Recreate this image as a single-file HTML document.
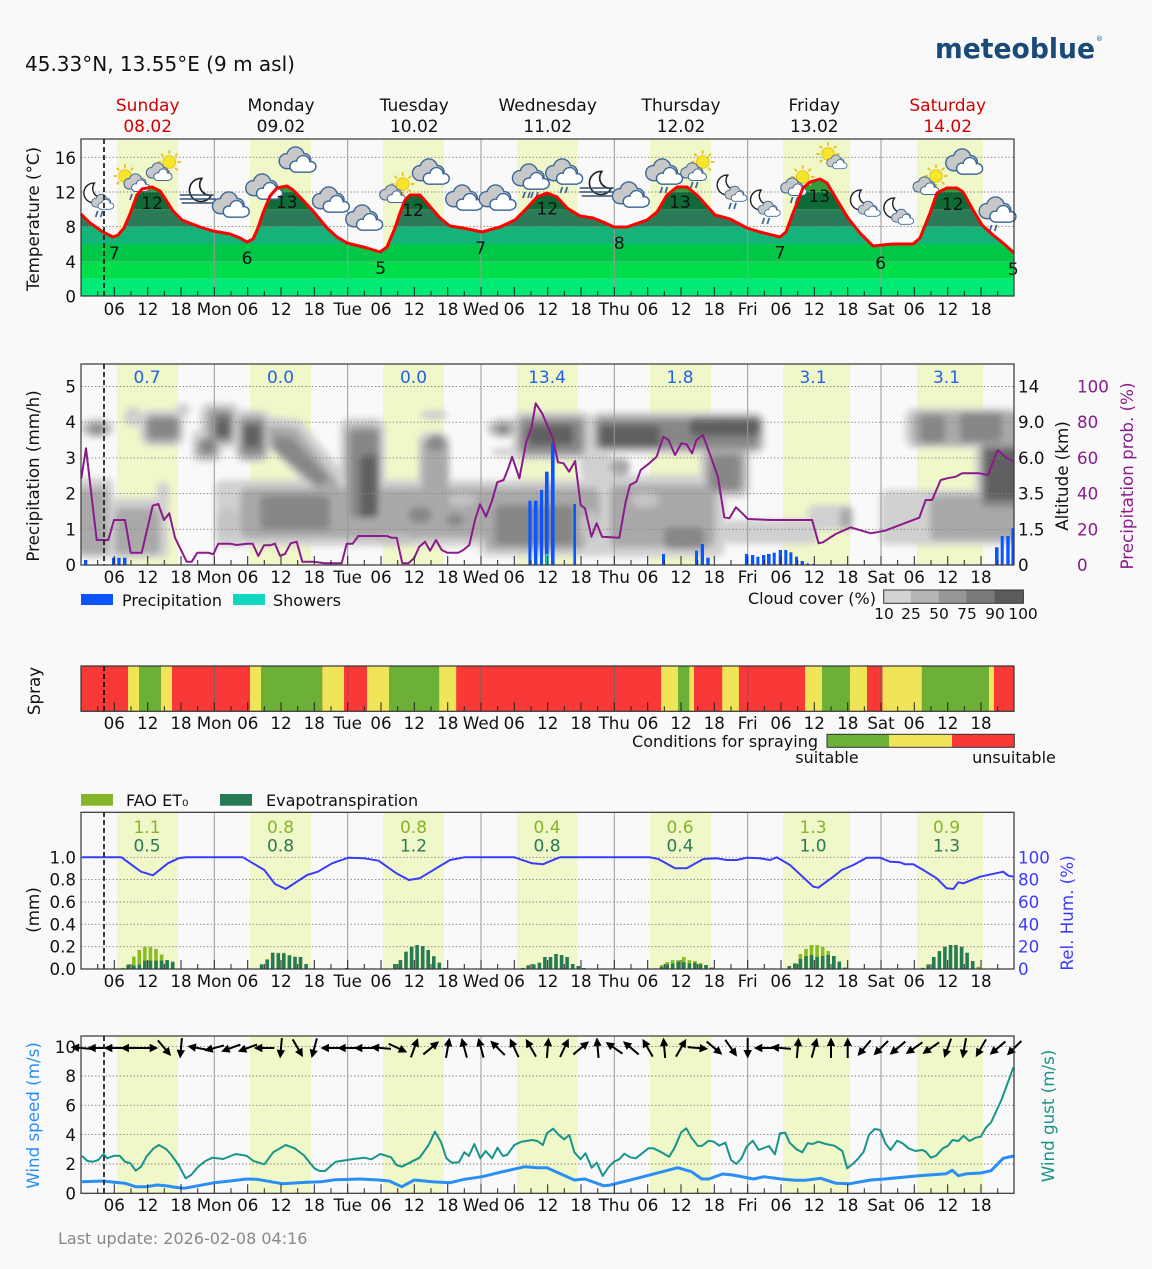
<!DOCTYPE html>
<html><head><meta charset="utf-8">
<style>
html,body{margin:0;padding:0;background:#f9f9f9;}
svg{display:block;font-family:"DejaVu Sans","Liberation Sans",sans-serif;}
</style></head>
<body>
<svg width="1152" height="1269" viewBox="0 0 1152 1269" xmlns="http://www.w3.org/2000/svg" xmlns:xlink="http://www.w3.org/1999/xlink">
<defs>
<filter id="bl" x="-20%" y="-20%" width="140%" height="140%"><feGaussianBlur stdDeviation="3.3"/></filter>
<clipPath id="tclip"><path d="M81,296 L81,214 90,223 103,232 113,237 118,235 124,228 130,214 137,195 142,189 152,187 160,191 166,200 173,211 182,220 192,224 200,227 213,231 230,234 240,238 247,242 253,239 258,228 263,213 270,196 277,188 287,186 293,190 300,197 313,211 327,228 337,237 347,243 367,248 380,252 387,247 395,228 400,213 405,200 410,195 420,195 427,203 440,218 450,226 463,228 482,232 500,227 515,220 527,208 537,197 547,193 557,197 567,208 580,216 593,218 603,222 614,227 627,227 647,220 657,212 667,195 677,187 687,187 697,195 715,215 730,219 747,228 760,232 780,237 786,232 793,213 803,188 810,182 820,179 827,183 837,200 848,218 860,233 873,246 893,244 913,244 920,238 930,213 937,193 947,188 957,188 963,192 973,210 982,225 993,235 1003,243 1014,253 L1014,296 Z"/></clipPath>
<clipPath id="pclip"><rect x="81" y="364" width="933" height="201"/></clipPath>
<g id="cl0">
<g fill="#3d6699"><circle cx="-10" cy="1" r="7.5"/><circle cx="-2" cy="-4" r="8.5"/><circle cx="6" cy="0" r="6.5"/><rect x="-10" y="0" width="16" height="8.5"/></g>
<g fill="#c8c8c8"><circle cx="-10" cy="1" r="6.2"/><circle cx="-2" cy="-4" r="7.2"/><circle cx="6" cy="0" r="5.2"/><rect x="-10" y="0" width="16" height="7.2"/></g>
<g fill="#3d6699"><circle cx="-2" cy="6" r="5.7"/><circle cx="5" cy="2" r="6.7"/><circle cx="12" cy="6" r="5.2"/><rect x="-2" y="6" width="14" height="5.7"/></g>
<g fill="#ffffff"><circle cx="-2" cy="6" r="4.4"/><circle cx="5" cy="2" r="5.4"/><circle cx="12" cy="6" r="3.9"/><rect x="-2" y="6" width="14" height="4.4"/></g>
</g>
<use id="cl" xlink:href="#cl0" transform="scale(1.1)"/>
<g id="sun"><path d="M0,-13V-9M9.2,-9.2L6.4,-6.4M13,0H9M9.2,9.2L6.4,6.4M0,13V9M-9.2,9.2L-6.4,6.4M-13,0H-9M-9.2,-9.2L-6.4,-6.4" stroke="#e6c01c" stroke-width="2"/><circle r="7" fill="#f7e52a" stroke="#e3c020" stroke-width="1"/></g>
<path id="moon" d="M2,-11 A11,11 0 1,0 11,5 A10,10 0 0,1 2,-11 Z" fill="#fff" stroke="#222" stroke-width="1.6"/>
<path id="rain" d="M-3,0 L-5,6 M2,0 L0,6" stroke="#3d6699" stroke-width="1.8" fill="none"/>
<path id="fog" d="M-18,0H16M-18,4H18M-16,8H18" stroke="#34506e" stroke-width="1.6" fill="none"/>
<g id="arr"><line x1="-10" y1="0" x2="4" y2="0" stroke="#000" stroke-width="2"/><polygon points="10.5,0 2,-4.2 2,4.2" fill="#000"/></g>
<path id="tk" d="M114.3,0v-9M147.7,0v-9M181,0v-9M214.3,0v-9M247.7,0v-9M281,0v-9M314.3,0v-9M347.7,0v-9M381,0v-9M414.3,0v-9M447.7,0v-9M481,0v-9M514.3,0v-9M547.7,0v-9M581,0v-9M614.3,0v-9M647.7,0v-9M681,0v-9M714.3,0v-9M747.7,0v-9M781,0v-9M814.3,0v-9M847.7,0v-9M881,0v-9M914.3,0v-9M947.7,0v-9M981,0v-9M97.7,0v-5M131,0v-5M164.3,0v-5M197.7,0v-5M231,0v-5M264.3,0v-5M297.7,0v-5M331,0v-5M364.3,0v-5M397.7,0v-5M431,0v-5M464.3,0v-5M497.7,0v-5M531,0v-5M564.3,0v-5M597.7,0v-5M631,0v-5M664.3,0v-5M697.7,0v-5M731,0v-5M764.3,0v-5M797.7,0v-5M831,0v-5M864.3,0v-5M897.7,0v-5M931,0v-5M964.3,0v-5M997.7,0v-5" stroke="#222" stroke-width="1" fill="none"/>
</defs>

<rect x="0" y="0" width="1152" height="1269" fill="#f9f9f9"/>

<!-- Header -->
<text x="25" y="71" font-size="20" fill="#111">45.33°N, 13.55°E (9 m asl)</text>
<text x="935" y="58" font-size="28" font-weight="bold" fill="#1a4a78" textLength="160" lengthAdjust="spacingAndGlyphs">meteoblue</text>
<text x="1096" y="41" font-size="7" fill="#1a4a78">®</text>

<g font-size="17" text-anchor="middle">
<text x="147.7" y="111" fill="#d40000">Sunday</text><text x="147.7" y="132" fill="#d40000">08.02</text>
<text x="281" y="111" fill="#111">Monday</text><text x="281" y="132" fill="#111">09.02</text>
<text x="414.3" y="111" fill="#111">Tuesday</text><text x="414.3" y="132" fill="#111">10.02</text>
<text x="547.7" y="111" fill="#111">Wednesday</text><text x="547.7" y="132" fill="#111">11.02</text>
<text x="681" y="111" fill="#111">Thursday</text><text x="681" y="132" fill="#111">12.02</text>
<text x="814.3" y="111" fill="#111">Friday</text><text x="814.3" y="132" fill="#111">13.02</text>
<text x="947.7" y="111" fill="#d40000">Saturday</text><text x="947.7" y="132" fill="#d40000">14.02</text>
</g>

<!-- ================= TEMPERATURE ================= -->
<g fill="#f0f7c9">
<rect x="117" y="139" width="61" height="157"/><rect x="250" y="139" width="61" height="157"/><rect x="383" y="139" width="61" height="157"/><rect x="517" y="139" width="60.5" height="157"/><rect x="650" y="139" width="61" height="157"/><rect x="783" y="139" width="67" height="157"/><rect x="917" y="139" width="66" height="157"/>
</g>
<g clip-path="url(#tclip)">
<rect x="81" y="278.7" width="933" height="17.3" fill="#00ea78"/>
<rect x="81" y="261.3" width="933" height="17.4" fill="#00de4c"/>
<rect x="81" y="244" width="933" height="17.3" fill="#00c846"/>
<rect x="81" y="226.6" width="933" height="17.4" fill="#13b37a"/>
<rect x="81" y="209.3" width="933" height="17.3" fill="#2b7a58"/>
<rect x="81" y="192" width="933" height="17.3" fill="#0e6b37"/>
<rect x="81" y="150" width="933" height="42" fill="#2e9c3d"/>
</g>
<g stroke="#888" stroke-width="0.9" stroke-dasharray="1.5,2" fill="none">
<path d="M81,261.3H1014M81,226.6H1014M81,192H1014M81,157.3H1014"/>
</g>
<path d="M214.3,139V296M347.7,139V296M481,139V296M614.3,139V296M747.7,139V296M881,139V296" stroke="#999" stroke-width="1"/>

<!-- weather icons -->
<g>
<g transform="translate(97.7,198)"><use xlink:href="#moon" transform="translate(-5,-5) scale(.9)"/><use xlink:href="#cl" transform="translate(5,4) scale(.6)"/><use xlink:href="#rain" transform="translate(3,13)"/></g>
<g transform="translate(131,180)"><use xlink:href="#sun" transform="translate(-6,-4) scale(.9)"/><use xlink:href="#cl" transform="translate(6,3) scale(.7)"/><use xlink:href="#rain" transform="translate(4,14)"/></g>
<g transform="translate(164.3,168)"><use xlink:href="#sun" transform="translate(5,-6) scale(.9)"/><use xlink:href="#cl" transform="translate(-5,4) scale(.7)"/></g>
<g transform="translate(197.7,193)"><use xlink:href="#moon" transform="translate(2,-3) scale(1.05)"/><use xlink:href="#fog" transform="translate(0,2)"/></g>
<use xlink:href="#cl" transform="translate(231,205)"/>
<use xlink:href="#cl" transform="translate(264.3,187)"/>
<use xlink:href="#cl" transform="translate(297.7,160)"/>
<use xlink:href="#cl" transform="translate(331,200)"/>
<use xlink:href="#cl" transform="translate(364.3,218)"/>
<g transform="translate(397.7,190)"><use xlink:href="#sun" transform="translate(5,-6) scale(.9)"/><use xlink:href="#cl" transform="translate(-5,4) scale(.7)"/></g>
<use xlink:href="#cl" transform="translate(431,172)"/>
<use xlink:href="#cl" transform="translate(464.3,198)"/>
<use xlink:href="#cl" transform="translate(497.7,198)"/>
<g transform="translate(531,177)"><use xlink:href="#cl"/><use xlink:href="#rain" transform="translate(-3,15)"/><use xlink:href="#rain" transform="translate(5,15)"/></g>
<g transform="translate(564.3,172)"><use xlink:href="#cl"/><use xlink:href="#rain" transform="translate(1,15)"/></g>
<g transform="translate(597.7,186)"><use xlink:href="#moon" transform="translate(2,-3) scale(1.05)"/><use xlink:href="#fog" transform="translate(0,2)"/></g>
<use xlink:href="#cl" transform="translate(631,195)"/>
<g transform="translate(664.3,172)"><use xlink:href="#cl"/><use xlink:href="#rain" transform="translate(1,15)"/></g>
<g transform="translate(697.7,168)"><use xlink:href="#sun" transform="translate(5,-6) scale(.9)"/><use xlink:href="#cl" transform="translate(-4,4) scale(.7)"/><use xlink:href="#rain" transform="translate(-2,14)"/></g>
<g transform="translate(731,190)"><use xlink:href="#moon" transform="translate(-5,-5) scale(.9)"/><use xlink:href="#cl" transform="translate(5,4) scale(.6)"/><use xlink:href="#rain" transform="translate(3,13)"/></g>
<g transform="translate(764.3,205)"><use xlink:href="#moon" transform="translate(-5,-5) scale(.9)"/><use xlink:href="#cl" transform="translate(5,4) scale(.6)"/><use xlink:href="#rain" transform="translate(3,13)"/></g>
<g transform="translate(797.7,183)"><use xlink:href="#sun" transform="translate(5,-6) scale(.9)"/><use xlink:href="#cl" transform="translate(-4,4) scale(.7)"/><use xlink:href="#rain" transform="translate(-2,14)"/></g>
<g transform="translate(831,157)"><use xlink:href="#sun" transform="translate(-3,-3) scale(.9)"/><use xlink:href="#cl" transform="translate(6,5) scale(.55)"/></g>
<g transform="translate(864.3,205)"><use xlink:href="#moon" transform="translate(-5,-5) scale(.9)"/><use xlink:href="#cl" transform="translate(5,4) scale(.6)"/></g>
<g transform="translate(897.7,213)"><use xlink:href="#moon" transform="translate(-5,-5) scale(.9)"/><use xlink:href="#cl" transform="translate(5,4) scale(.6)"/></g>
<g transform="translate(931,182)"><use xlink:href="#sun" transform="translate(5,-6) scale(.9)"/><use xlink:href="#cl" transform="translate(-5,4) scale(.7)"/></g>
<use xlink:href="#cl" transform="translate(964.3,162)"/>
<g transform="translate(997.7,210)"><use xlink:href="#cl"/><use xlink:href="#rain" transform="translate(-3,15)"/></g>
</g>

<polyline fill="none" stroke="#ff0000" stroke-width="3" stroke-linejoin="round" points="81,214 90,223 103,232 113,237 118,235 124,228 130,214 137,195 142,189 152,187 160,191 166,200 173,211 182,220 192,224 200,227 213,231 230,234 240,238 247,242 253,239 258,228 263,213 270,196 277,188 287,186 293,190 300,197 313,211 327,228 337,237 347,243 367,248 380,252 387,247 395,228 400,213 405,200 410,195 420,195 427,203 440,218 450,226 463,228 482,232 500,227 515,220 527,208 537,197 547,193 557,197 567,208 580,216 593,218 603,222 614,227 627,227 647,220 657,212 667,195 677,187 687,187 697,195 715,215 730,219 747,228 760,232 780,237 786,232 793,213 803,188 810,182 820,179 827,183 837,200 848,218 860,233 873,246 893,244 913,244 920,238 930,213 937,193 947,188 957,188 963,192 973,210 982,225 993,235 1003,243 1014,253"/>

<g font-size="17" fill="#111" text-anchor="middle">
<text x="114.3" y="259">7</text><text x="152" y="209">12</text><text x="247" y="264">6</text><text x="286.7" y="208">13</text><text x="380.7" y="274">5</text>
<text x="413" y="216">12</text><text x="480.7" y="254">7</text><text x="547.3" y="214.5">12</text><text x="619.3" y="249">8</text><text x="680" y="208">13</text>
<text x="780" y="258.5">7</text><text x="819.3" y="202">13</text><text x="880.7" y="269">6</text><text x="952.7" y="210">12</text><text x="1013.3" y="275">5</text>
</g>
<line x1="104" y1="139" x2="104" y2="296" stroke="#222" stroke-width="1.8" stroke-dasharray="5,3"/>
<use xlink:href="#tk" y="296"/>
<rect x="81" y="139" width="933" height="157" fill="none" stroke="#333" stroke-width="1.2"/>
<g font-size="16.7" fill="#111" text-anchor="end">
<text x="76" y="302.5">0</text><text x="76" y="267.8">4</text><text x="76" y="233">8</text><text x="76" y="198.5">12</text><text x="76" y="163.8">16</text>
</g>
<text transform="translate(39,219) rotate(-90)" font-size="16.7" fill="#111" text-anchor="middle">Temperature (°C)</text>
<text font-size="16.7" fill="#111" text-anchor="middle" y="315"><tspan x="114.3">06</tspan><tspan x="147.7">12</tspan><tspan x="181">18</tspan><tspan x="214.3">Mon</tspan><tspan x="247.7">06</tspan><tspan x="281">12</tspan><tspan x="314.3">18</tspan><tspan x="347.7">Tue</tspan><tspan x="381">06</tspan><tspan x="414.3">12</tspan><tspan x="447.7">18</tspan><tspan x="481">Wed</tspan><tspan x="514.3">06</tspan><tspan x="547.7">12</tspan><tspan x="581">18</tspan><tspan x="614.3">Thu</tspan><tspan x="647.7">06</tspan><tspan x="681">12</tspan><tspan x="714.3">18</tspan><tspan x="747.7">Fri</tspan><tspan x="781">06</tspan><tspan x="814.3">12</tspan><tspan x="847.7">18</tspan><tspan x="881">Sat</tspan><tspan x="914.3">06</tspan><tspan x="947.7">12</tspan><tspan x="981">18</tspan></text>

<!-- ================= PRECIPITATION ================= -->
<g fill="#f0f7c9">
<rect x="117" y="364" width="61" height="201"/><rect x="250" y="364" width="61" height="201"/><rect x="383" y="364" width="61" height="201"/><rect x="517" y="364" width="60.5" height="201"/><rect x="650" y="364" width="61" height="201"/><rect x="783" y="364" width="67" height="201"/><rect x="917" y="364" width="66" height="201"/>
</g>
<g clip-path="url(#pclip)"><g filter="url(#bl)">
<g fill="#d0d0d0">
<rect x="76" y="478" width="37" height="80" rx="6"/><rect x="110" y="498" width="58" height="60" rx="6"/><rect x="157" y="482" width="12" height="24" rx="5"/>
<ellipse cx="97" cy="428" rx="17" ry="10"/><ellipse cx="133" cy="417" rx="9" ry="10"/><rect x="140" y="410" width="44" height="36" rx="10"/><ellipse cx="183" cy="410" rx="7" ry="7"/>
<rect x="192" y="430" width="30" height="32" rx="8"/><rect x="200" y="403" width="40" height="45" rx="10"/><rect x="235" y="410" width="35" height="52" rx="10"/>
<polygon points="262,415 300,420 348,478 348,500 320,500 262,440"/>
<rect x="215" y="480" width="400" height="66" rx="8"/><rect x="340" y="418" width="45" height="110" rx="10"/>
<ellipse cx="434" cy="415" rx="14" ry="5"/><rect x="418" y="432" width="32" height="65" rx="10"/>
<ellipse cx="503" cy="428" rx="17" ry="10"/><ellipse cx="506" cy="452" rx="15" ry="4"/>
<rect x="480" y="488" width="130" height="68" rx="8"/><rect x="512" y="412" width="80" height="48" rx="10"/>
<rect x="590" y="412" width="175" height="42" rx="10"/><rect x="700" y="440" width="50" height="58" rx="10"/>
<rect x="580" y="452" width="32" height="28" rx="8"/><rect x="605" y="475" width="120" height="82" rx="10"/>
<rect x="725" y="520" width="92" height="24" rx="6"/><rect x="808" y="505" width="45" height="25" rx="6"/>
<rect x="880" y="490" width="140" height="55" rx="8"/><rect x="905" y="408" width="115" height="40" rx="10"/><rect x="975" y="438" width="45" height="80"/>
</g>
<g fill="#a9a9a9">
<rect x="78" y="488" width="30" height="66" rx="6"/><rect x="115" y="508" width="45" height="46" rx="6"/><ellipse cx="97" cy="429" rx="12" ry="7"/>
<rect x="145" y="415" width="35" height="28" rx="8"/><rect x="196" y="438" width="22" height="20" rx="8"/><rect x="206" y="408" width="28" height="36" rx="8"/>
<rect x="238" y="415" width="28" height="44" rx="8"/><polygon points="268,425 296,428 338,482 338,495 322,495 268,445"/>
<rect x="240" y="488" width="360" height="50" rx="8"/><rect x="345" y="425" width="36" height="98" rx="8"/><rect x="422" y="438" width="26" height="55" rx="8"/>
<ellipse cx="503" cy="429" rx="12" ry="7"/><rect x="485" y="495" width="100" height="55" rx="8"/><rect x="518" y="416" width="68" height="40" rx="8"/>
<rect x="594" y="416" width="168" height="34" rx="8"/><rect x="705" y="445" width="40" height="48" rx="8"/><ellipse cx="620" cy="467" rx="10" ry="9"/>
<rect x="610" y="485" width="105" height="62" rx="8"/><rect x="840" y="508" width="12" height="20" rx="4"/><rect x="930" y="495" width="90" height="45" rx="6"/>
<rect x="912" y="412" width="108" height="33" rx="8"/><rect x="980" y="442" width="40" height="70"/>
</g>
<g fill="#c4c4c4">
<ellipse cx="228" cy="522" rx="12" ry="14"/><ellipse cx="395" cy="540" rx="18" ry="6"/><ellipse cx="462" cy="500" rx="14" ry="6"/><ellipse cx="590" cy="525" rx="10" ry="14"/><ellipse cx="645" cy="500" rx="14" ry="8"/>
</g>
<g fill="#878787">
<ellipse cx="97" cy="429" rx="6" ry="4"/><rect x="148" y="418" width="30" height="20" rx="6"/><ellipse cx="208" cy="446" rx="8" ry="8"/>
<rect x="212" y="412" width="20" height="28" rx="6"/><rect x="242" y="420" width="22" height="35" rx="6"/><polygon points="275,435 292,438 330,480 318,485 275,450"/>
<rect x="260" y="495" width="70" height="35" rx="6"/><rect x="350" y="430" width="28" height="88" rx="6"/><ellipse cx="436" cy="443" rx="9" ry="8"/>
<ellipse cx="420" cy="515" rx="12" ry="8"/><ellipse cx="455" cy="520" rx="9" ry="6"/>
<rect x="495" y="505" width="80" height="40" rx="6"/><rect x="520" y="420" width="62" height="32" rx="6"/><rect x="597" y="420" width="160" height="28" rx="6"/>
<rect x="710" y="455" width="30" height="35" rx="6"/><rect x="664" y="527" width="40" height="22" rx="6"/><rect x="920" y="415" width="25" height="28" rx="6"/>
<rect x="960" y="412" width="42" height="30" rx="6"/><rect x="982" y="445" width="38" height="62" rx="3"/>
</g>
<g fill="#606060">
<rect x="217" y="418" width="12" height="20" rx="4"/><rect x="244" y="425" width="16" height="22" rx="4"/><rect x="360" y="455" width="18" height="62" rx="4"/>
<rect x="600" y="425" width="60" height="22" rx="5"/><rect x="690" y="418" width="70" height="18" rx="5"/><rect x="528" y="425" width="45" height="20" rx="5"/>
<rect x="985" y="450" width="35" height="50"/><ellipse cx="503" cy="429" rx="4" ry="3"/>
</g>
</g></g>
<g stroke="#888" stroke-width="0.9" stroke-dasharray="1.5,2" fill="none">
<path d="M81,529.3H1014M81,493.6H1014M81,457.9H1014M81,422.2H1014M81,386.5H1014"/>
</g>
<path d="M214.3,364V565M347.7,364V565M481,364V565M614.3,364V565M747.7,364V565M881,364V565" stroke="#999" stroke-width="1"/>
<g fill="#0a55ff">
<rect x="84" y="560" width="3.3" height="5"/><rect x="112" y="557.7" width="3.3" height="7.3"/><rect x="117.3" y="557.7" width="3.3" height="7.3"/><rect x="123" y="557.7" width="3.5" height="7.3"/>
<rect x="528.4" y="500.7" width="3" height="64.3"/><rect x="534" y="500.7" width="3.4" height="64.3"/><rect x="540" y="490" width="3" height="75"/><rect x="545" y="471.7" width="3.6" height="93.3"/><rect x="551" y="443.3" width="3.6" height="121.7"/><rect x="573.4" y="504" width="2.6" height="61"/>
<rect x="662" y="554" width="3" height="11"/><rect x="695" y="550.7" width="3" height="14.3"/><rect x="700.7" y="544" width="3.3" height="21"/><rect x="706.3" y="557.7" width="3.4" height="7.3"/>
<rect x="744.9" y="554" width="3.4" height="11"/><rect x="750.9" y="555" width="3.4" height="10"/><rect x="756.4" y="556.7" width="3" height="8.3"/><rect x="762" y="555" width="3.4" height="10"/><rect x="767" y="554" width="3.6" height="11"/><rect x="772.7" y="552.7" width="3" height="12.3"/><rect x="778.7" y="550" width="3.3" height="15"/><rect x="784.3" y="550" width="3" height="15"/><rect x="789.4" y="552.3" width="3" height="12.7"/><rect x="795" y="556.7" width="3" height="8.3"/><rect x="800.6" y="561" width="3.4" height="4"/><rect x="806.6" y="563.3" width="2.4" height="1.7"/><rect x="812" y="564" width="2.7" height="1"/>
<rect x="995" y="547.3" width="3.6" height="17.7"/><rect x="1000.7" y="536" width="3" height="29"/><rect x="1006.3" y="536" width="3.4" height="29"/><rect x="1011.4" y="528.3" width="2.6" height="36.7"/>
</g>
<rect x="545.5" y="554" width="2.8" height="11" fill="#10d8c0"/>
<polyline fill="none" stroke="#8b1a8b" stroke-width="2" stroke-linejoin="round" points="81.3,478.3 86,448.3 96.7,540 108.3,540 114,520 125,520 130.7,552.7 141.7,552.7 152.7,505.7 158.3,504 164,520 169.3,513.3 175,537.7 186.7,561.7 191.7,561.7 197.3,552.7 208.3,552.7 213.3,554.3 218.3,543.7 230,543.7 236.7,545 246.7,543.7 252.7,543.7 258.3,556 264,545.3 270,545.3 275,543.7 280,555.7 285,554 290.7,543.3 296.7,541.7 302.3,561.7 313.3,561.7 325,563.3 341.7,563.3 346.7,543.7 352.7,543.7 358.3,536 386.7,536 391.7,537.7 396.7,537.7 402.3,563.3 408.3,563.3 414,558.3 419.3,546.7 425,541.7 430,550.7 436,540 441.7,550 447.3,552.7 458.3,552.7 463.3,550 469.3,545 475,520 480,504.3 486,516.7 491.7,501.7 497.3,482.3 503.6,480 508.3,468.3 512.1,456.7 519.4,478.3 526.3,441.7 531.4,428.3 535.7,403.3 542.1,413.3 552.9,438.3 558,462.3 563.6,463.3 569.1,471.7 575.1,461 580.7,505 585,508.3 591.4,536.7 596.6,523.3 602.1,536.7 619.3,537.7 625.7,501.7 630,485 636.4,481.7 640.7,470 649.3,463.3 656.6,456.7 663.4,436.7 668.6,440 675,455 681.4,443.3 686.6,444.3 692.1,453.3 696.4,440 702.9,435 711.4,458.3 717.9,476.7 724.3,517.3 729.4,518.3 735.9,507.3 742.3,513.3 747.9,519 771.4,520 812.1,520 818.6,543.3 822.9,542.3 835.7,534 850.7,527.3 857.1,529.3 870.9,533.3 885,530.7 908.6,521.7 919.3,517.7 925.7,500 932.1,500 940.7,480 947.1,478.3 955.7,476.7 962.1,473.3 979.3,473.3 987.9,475 997.7,450 1005,456.7 1013.6,461.7"/>
<g font-size="17" fill="#1f62f0" text-anchor="middle">
<text x="147" y="383">0.7</text><text x="280.5" y="383">0.0</text><text x="413.5" y="383">0.0</text><text x="547" y="383">13.4</text><text x="680" y="383">1.8</text><text x="813" y="383">3.1</text><text x="946.5" y="383">3.1</text>
</g>
<line x1="104" y1="364" x2="104" y2="565" stroke="#222" stroke-width="1.8" stroke-dasharray="5,3"/>
<use xlink:href="#tk" y="565"/>
<rect x="81" y="364" width="933" height="201" fill="none" stroke="#333" stroke-width="1.2"/>
<g font-size="16.7" fill="#111" text-anchor="end">
<text x="76" y="571">0</text><text x="76" y="535.3">1</text><text x="76" y="499.6">2</text><text x="76" y="463.9">3</text><text x="76" y="428.2">4</text><text x="76" y="392.5">5</text>
</g>
<g font-size="16.7" fill="#111">
<text x="1018" y="571">0</text><text x="1018" y="535.3">1.5</text><text x="1018" y="499.6">3.5</text><text x="1018" y="463.9">6.0</text><text x="1018" y="428.2">9.0</text><text x="1018" y="392.5">14</text>
</g>
<g font-size="16.7" fill="#8b1a8b">
<text x="1077" y="571">0</text><text x="1077" y="535.3">20</text><text x="1077" y="499.6">40</text><text x="1077" y="463.9">60</text><text x="1077" y="428.2">80</text><text x="1077" y="392.5">100</text>
</g>
<text transform="translate(39,476) rotate(-90)" font-size="16.7" fill="#111" text-anchor="middle">Precipitation (mm/h)</text>
<text transform="translate(1068,476) rotate(-90)" font-size="16.7" fill="#111" text-anchor="middle">Altitude (km)</text>
<text transform="translate(1133,476) rotate(-90)" font-size="16.7" fill="#8b1a8b" text-anchor="middle">Precipitation prob. (%)</text>
<text font-size="16.7" fill="#111" text-anchor="middle" y="583"><tspan x="114.3">06</tspan><tspan x="147.7">12</tspan><tspan x="181">18</tspan><tspan x="214.3">Mon</tspan><tspan x="247.7">06</tspan><tspan x="281">12</tspan><tspan x="314.3">18</tspan><tspan x="347.7">Tue</tspan><tspan x="381">06</tspan><tspan x="414.3">12</tspan><tspan x="447.7">18</tspan><tspan x="481">Wed</tspan><tspan x="514.3">06</tspan><tspan x="547.7">12</tspan><tspan x="581">18</tspan><tspan x="614.3">Thu</tspan><tspan x="647.7">06</tspan><tspan x="681">12</tspan><tspan x="714.3">18</tspan><tspan x="747.7">Fri</tspan><tspan x="781">06</tspan><tspan x="814.3">12</tspan><tspan x="847.7">18</tspan><tspan x="881">Sat</tspan><tspan x="914.3">06</tspan><tspan x="947.7">12</tspan><tspan x="981">18</tspan></text>
<!-- precip legend -->
<rect x="81" y="594" width="32" height="11" fill="#0a55ff"/>
<text x="122" y="606" font-size="16" fill="#111">Precipitation</text>
<rect x="233" y="594" width="32" height="11" fill="#10d8c0"/>
<text x="273" y="606" font-size="16" fill="#111">Showers</text>
<text x="876" y="604" font-size="16" fill="#111" text-anchor="end">Cloud cover (%)</text>
<rect x="883.7" y="590" width="27" height="13.3" fill="#d3d3d3"/>
<rect x="910.7" y="590" width="28" height="13.3" fill="#b5b5b5"/>
<rect x="938.6" y="590" width="28" height="13.3" fill="#989898"/>
<rect x="966.4" y="590" width="28" height="13.3" fill="#7a7a7a"/>
<rect x="994.3" y="590" width="29" height="13.3" fill="#5b5b5b"/>
<rect x="883.7" y="590" width="139.7" height="13.3" fill="none" stroke="#333" stroke-width="1"/>
<g font-size="15.5" fill="#111" text-anchor="middle">
<text x="884" y="619">10</text><text x="911" y="619">25</text><text x="939" y="619">50</text><text x="967" y="619">75</text><text x="995" y="619">90</text><text x="1023" y="619">100</text>
</g>

<!-- ================= SPRAY ================= -->
<rect x="81" y="666" width="933" height="45.3" fill="#f93838"/>
<g fill="#f0e558">
<rect x="128" y="666" width="11.1" height="45.3"/><rect x="160.9" y="666" width="11.1" height="45.3"/><rect x="250" y="666" width="11.2" height="45.3"/><rect x="322.2" y="666" width="21.8" height="45.3"/><rect x="367" y="666" width="22.2" height="45.3"/><rect x="439.1" y="666" width="17.1" height="45.3"/><rect x="661" y="666" width="17" height="45.3"/><rect x="689.2" y="666" width="4.8" height="45.3"/><rect x="722.2" y="666" width="16.7" height="45.3"/><rect x="805" y="666" width="17" height="45.3"/><rect x="849.9" y="666" width="17.1" height="45.3"/><rect x="882.5" y="666" width="39.4" height="45.3"/><rect x="989" y="666" width="4.9" height="45.3"/>
</g>
<g fill="#6cb037">
<rect x="139.1" y="666" width="21.8" height="45.3"/><rect x="261.2" y="666" width="61" height="45.3"/><rect x="389.2" y="666" width="49.9" height="45.3"/><rect x="678" y="666" width="11.2" height="45.3"/><rect x="822" y="666" width="27.9" height="45.3"/><rect x="921.9" y="666" width="67.1" height="45.3"/>
</g>
<path d="M214.3,666V711M347.7,666V711M481,666V711M614.3,666V711M747.7,666V711M881,666V711" stroke="#666" stroke-width="1"/>
<line x1="104" y1="666" x2="104" y2="711" stroke="#111" stroke-width="1.8" stroke-dasharray="5,3"/>
<use xlink:href="#tk" y="711.3"/>
<rect x="81" y="666" width="933" height="45.3" fill="none" stroke="#333" stroke-width="1.2"/>
<text transform="translate(40,691) rotate(-90)" font-size="16.7" fill="#111" text-anchor="middle">Spray</text>
<text font-size="16.7" fill="#111" text-anchor="middle" y="729"><tspan x="114.3">06</tspan><tspan x="147.7">12</tspan><tspan x="181">18</tspan><tspan x="214.3">Mon</tspan><tspan x="247.7">06</tspan><tspan x="281">12</tspan><tspan x="314.3">18</tspan><tspan x="347.7">Tue</tspan><tspan x="381">06</tspan><tspan x="414.3">12</tspan><tspan x="447.7">18</tspan><tspan x="481">Wed</tspan><tspan x="514.3">06</tspan><tspan x="547.7">12</tspan><tspan x="581">18</tspan><tspan x="614.3">Thu</tspan><tspan x="647.7">06</tspan><tspan x="681">12</tspan><tspan x="714.3">18</tspan><tspan x="747.7">Fri</tspan><tspan x="781">06</tspan><tspan x="814.3">12</tspan><tspan x="847.7">18</tspan><tspan x="881">Sat</tspan><tspan x="914.3">06</tspan><tspan x="947.7">12</tspan><tspan x="981">18</tspan></text>
<text x="818" y="747" font-size="16" fill="#111" text-anchor="end">Conditions for spraying</text>
<rect x="827" y="734.3" width="62.3" height="13" fill="#6cb037"/>
<rect x="889.3" y="734.3" width="62.7" height="13" fill="#f0e558"/>
<rect x="952" y="734.3" width="62.3" height="13" fill="#f93838"/>
<rect x="827" y="734.3" width="187.3" height="13" fill="none" stroke="#333" stroke-width="1"/>
<text x="827" y="763" font-size="16" fill="#111" text-anchor="middle">suitable</text>
<text x="1014" y="763" font-size="16" fill="#111" text-anchor="middle">unsuitable</text>

<!-- ================= ET ================= -->
<rect x="81" y="794" width="32" height="11.7" fill="#86b52a"/>
<text x="126" y="806" font-size="16" fill="#111">FAO ET₀</text>
<rect x="220" y="794" width="32" height="11.7" fill="#287a55"/>
<text x="266" y="806" font-size="16" fill="#111">Evapotranspiration</text>
<g fill="#f0f7c9">
<rect x="117" y="812.3" width="61" height="156.7"/><rect x="250" y="812.3" width="61" height="156.7"/><rect x="383" y="812.3" width="61" height="156.7"/><rect x="517" y="812.3" width="60.5" height="156.7"/><rect x="650" y="812.3" width="61" height="156.7"/><rect x="783" y="812.3" width="67" height="156.7"/><rect x="917" y="812.3" width="66" height="156.7"/>
</g>
<g stroke="#888" stroke-width="0.9" stroke-dasharray="1.5,2" fill="none">
<path d="M81,946.7H1014M81,924.3H1014M81,902H1014M81,879.6H1014M81,857.3H1014"/>
</g>
<path d="M214.3,812V969M347.7,812V969M481,812V969M614.3,812V969M747.7,812V969M881,812V969" stroke="#999" stroke-width="1"/>
<g fill="#8cbb28">
<rect x="120.9" y="967.9" width="3.6" height="1.1"/><rect x="132" y="956.7" width="3.6" height="12.3"/><rect x="137.5" y="950" width="3.6" height="19"/><rect x="143.1" y="946.7" width="3.6" height="22.3"/><rect x="148.6" y="946.7" width="3.6" height="22.3"/><rect x="154.2" y="948.9" width="3.6" height="20.1"/><rect x="159.8" y="954.5" width="3.6" height="14.5"/><rect x="165.3" y="960.1" width="3.6" height="8.9"/><rect x="170.9" y="962.3" width="3.6" height="6.7"/>
<rect x="265.4" y="959" width="3.6" height="10"/><rect x="276.5" y="952.8" width="3.6" height="16.2"/><rect x="282" y="952.8" width="3.6" height="16.2"/><rect x="287.6" y="955" width="3.6" height="14"/>
<rect x="654.2" y="968.3" width="3.6" height=".7"/><rect x="659.8" y="965" width="3.6" height="4"/><rect x="665.3" y="962" width="3.6" height="7"/><rect x="670.9" y="960.1" width="3.6" height="8.9"/><rect x="676.4" y="960.1" width="3.6" height="8.9"/><rect x="682" y="957" width="3.6" height="12"/><rect x="687.6" y="960.1" width="3.6" height="8.9"/><rect x="693.1" y="961" width="3.6" height="8"/><rect x="698.7" y="963" width="3.6" height="6"/><rect x="704.2" y="965" width="3.6" height="4"/><rect x="709.8" y="967.7" width="3.6" height="1.3"/>
<rect x="787.5" y="966" width="3.6" height="3"/><rect x="793.1" y="963.4" width="3.6" height="5.6"/><rect x="798.6" y="954" width="3.6" height="15"/><rect x="804.2" y="948.9" width="3.6" height="20.1"/><rect x="809.7" y="945" width="3.6" height="24"/><rect x="815.3" y="945" width="3.6" height="24"/><rect x="820.9" y="946.7" width="3.6" height="22.3"/><rect x="826.4" y="951.1" width="3.6" height="17.9"/><rect x="832" y="956" width="3.6" height="13"/><rect x="837.5" y="961.6" width="3.6" height="7.4"/><rect x="843.1" y="967.7" width="3.6" height="1.3"/>
<rect x="976.5" y="966.8" width="3.6" height="2.2"/>
</g>
<g fill="#287a55">
<rect x="126.4" y="964.5" width="3.6" height="4.5"/><rect x="132" y="965.6" width="3.6" height="3.4"/><rect x="137.5" y="964.5" width="3.6" height="4.5"/><rect x="143.1" y="960.6" width="3.6" height="8.4"/><rect x="148.6" y="960.6" width="3.6" height="8.4"/><rect x="154.2" y="960.6" width="3.6" height="8.4"/><rect x="159.8" y="960.6" width="3.6" height="8.4"/><rect x="165.3" y="960.1" width="3.6" height="8.9"/><rect x="170.9" y="961.7" width="3.6" height="7.3"/>
<rect x="259.8" y="964.3" width="3.6" height="4.7"/><rect x="265.4" y="960" width="3.6" height="9"/><rect x="270.9" y="952.7" width="3.6" height="16.3"/><rect x="276.5" y="953.3" width="3.6" height="15.7"/><rect x="282" y="953.3" width="3.6" height="15.7"/><rect x="287.6" y="955.6" width="3.6" height="13.4"/><rect x="293.2" y="956.7" width="3.6" height="12.3"/><rect x="298.7" y="957" width="3.6" height="12"/><rect x="304.3" y="964" width="3.6" height="5"/><rect x="309.8" y="968.3" width="3.6" height=".7"/>
<rect x="345" y="968" width="3.6" height="1"/>
<rect x="393.1" y="964" width="3.6" height="5"/><rect x="398.6" y="960.1" width="3.6" height="8.9"/><rect x="404.2" y="951.7" width="3.6" height="17.3"/><rect x="409.8" y="946.7" width="3.6" height="22.3"/><rect x="415.3" y="945" width="3.6" height="24"/><rect x="420.9" y="946.1" width="3.6" height="22.9"/><rect x="426.4" y="950" width="3.6" height="19"/><rect x="432" y="956.2" width="3.6" height="12.8"/><rect x="437.5" y="962.6" width="3.6" height="6.4"/><rect x="443.1" y="967.9" width="3.6" height="1.1"/>
<rect x="520.9" y="967.9" width="3.6" height="1.1"/><rect x="526.4" y="965.3" width="3.6" height="3.7"/><rect x="532" y="964.3" width="3.6" height="4.7"/><rect x="537.6" y="962.7" width="3.6" height="6.3"/><rect x="543.1" y="957" width="3.6" height="12"/><rect x="548.7" y="957" width="3.6" height="12"/><rect x="554.2" y="954" width="3.6" height="15"/><rect x="559.8" y="955" width="3.6" height="14"/><rect x="565.3" y="957" width="3.6" height="12"/><rect x="570.9" y="964" width="3.6" height="5"/><rect x="576.5" y="966" width="3.6" height="3"/><rect x="582" y="968" width="3.6" height="1"/>
<rect x="659.8" y="966.8" width="3.6" height="2.2"/><rect x="665.3" y="964.3" width="3.6" height="4.7"/><rect x="670.9" y="963.4" width="3.6" height="5.6"/><rect x="676.4" y="961.6" width="3.6" height="7.4"/><rect x="682" y="962.3" width="3.6" height="6.7"/><rect x="687.6" y="963.4" width="3.6" height="5.6"/><rect x="693.1" y="962.6" width="3.6" height="6.4"/><rect x="698.7" y="964.3" width="3.6" height="4.7"/><rect x="704.2" y="965" width="3.6" height="4"/><rect x="709.8" y="967.7" width="3.6" height="1.3"/>
<rect x="787.5" y="966" width="3.6" height="3"/><rect x="793.1" y="963.4" width="3.6" height="5.6"/><rect x="798.6" y="959" width="3.6" height="10"/><rect x="804.2" y="956" width="3.6" height="13"/><rect x="809.7" y="955" width="3.6" height="14"/><rect x="815.3" y="956.7" width="3.6" height="12.3"/><rect x="820.9" y="956" width="3.6" height="13"/><rect x="826.4" y="955" width="3.6" height="14"/><rect x="832" y="956" width="3.6" height="13"/><rect x="837.5" y="961.6" width="3.6" height="7.4"/><rect x="843.1" y="967.7" width="3.6" height="1.3"/>
<rect x="920.9" y="967.9" width="3.6" height="1.1"/><rect x="926.4" y="964.5" width="3.6" height="4.5"/><rect x="932" y="957" width="3.6" height="12"/><rect x="937.6" y="951.1" width="3.6" height="17.9"/><rect x="943.1" y="946.7" width="3.6" height="22.3"/><rect x="948.7" y="945" width="3.6" height="24"/><rect x="954.2" y="945" width="3.6" height="24"/><rect x="959.8" y="946.7" width="3.6" height="22.3"/><rect x="965.3" y="952.7" width="3.6" height="16.3"/><rect x="970.9" y="961" width="3.6" height="8"/>
</g>
<polyline fill="none" stroke="#3b3bff" stroke-width="2" stroke-linejoin="round" points="82,857.3 121.4,857.3 141,871.7 152.9,875.3 167.9,863.3 178.6,858.3 185.7,857.3 242.9,857.3 264.3,870 275,884 285.7,889 307.1,875 317.9,871.7 332.1,863.3 348.2,857.7 364.3,858.3 378.6,860.7 396.4,873.3 408.9,880 419.6,878.3 450,860 464.3,857.3 514.3,857.3 532.1,863.3 542.9,864.3 557,858.3 560,857.3 650,857.3 658.3,859 675,868.3 686.7,868.3 703.3,859 716.7,858.3 726.7,860 736.7,860 746.7,857.7 760,858.3 770,860 776.7,857.3 790,865 813.3,886.7 818.3,887.7 833.3,876.7 841.7,870 853.3,865 866.7,857.7 880,857.7 890,861.7 900,862.3 905,864.3 913.3,864.3 923.3,870 936.7,878.3 946.7,888.3 953.3,889 958.3,882.3 963.3,883.3 980,876.7 1003.3,871.7 1008.3,875.7 1013.3,876.7"/>
<g font-size="17" text-anchor="middle">
<g fill="#86b52a"><text x="147" y="833">1.1</text><text x="280.5" y="833">0.8</text><text x="413.5" y="833">0.8</text><text x="547" y="833">0.4</text><text x="680" y="833">0.6</text><text x="813" y="833">1.3</text><text x="946.5" y="833">0.9</text></g>
<g fill="#287a55"><text x="147" y="851.5">0.5</text><text x="280.5" y="851.5">0.8</text><text x="413.5" y="851.5">1.2</text><text x="547" y="851.5">0.8</text><text x="680" y="851.5">0.4</text><text x="813" y="851.5">1.0</text><text x="946.5" y="851.5">1.3</text></g>
</g>
<line x1="104" y1="812" x2="104" y2="969" stroke="#222" stroke-width="1.8" stroke-dasharray="5,3"/>
<use xlink:href="#tk" y="969"/>
<rect x="81" y="812.3" width="933" height="156.7" fill="none" stroke="#333" stroke-width="1.2"/>
<g font-size="16.7" fill="#111" text-anchor="end">
<text x="76" y="975">0.0</text><text x="76" y="952.7">0.2</text><text x="76" y="930.3">0.4</text><text x="76" y="908">0.6</text><text x="76" y="885.6">0.8</text><text x="76" y="863.3">1.0</text>
</g>
<g font-size="16.7" fill="#3b3bff">
<text x="1018" y="975">0</text><text x="1018" y="952.7">20</text><text x="1018" y="930.3">40</text><text x="1018" y="908">60</text><text x="1018" y="885.6">80</text><text x="1018" y="863.3">100</text>
</g>
<text transform="translate(39,910) rotate(-90)" font-size="16.7" fill="#111" text-anchor="middle">(mm)</text>
<text transform="translate(1073,913) rotate(-90)" font-size="16.7" fill="#3b3bff" text-anchor="middle">Rel. Hum. (%)</text>
<text font-size="16.7" fill="#111" text-anchor="middle" y="987"><tspan x="114.3">06</tspan><tspan x="147.7">12</tspan><tspan x="181">18</tspan><tspan x="214.3">Mon</tspan><tspan x="247.7">06</tspan><tspan x="281">12</tspan><tspan x="314.3">18</tspan><tspan x="347.7">Tue</tspan><tspan x="381">06</tspan><tspan x="414.3">12</tspan><tspan x="447.7">18</tspan><tspan x="481">Wed</tspan><tspan x="514.3">06</tspan><tspan x="547.7">12</tspan><tspan x="581">18</tspan><tspan x="614.3">Thu</tspan><tspan x="647.7">06</tspan><tspan x="681">12</tspan><tspan x="714.3">18</tspan><tspan x="747.7">Fri</tspan><tspan x="781">06</tspan><tspan x="814.3">12</tspan><tspan x="847.7">18</tspan><tspan x="881">Sat</tspan><tspan x="914.3">06</tspan><tspan x="947.7">12</tspan><tspan x="981">18</tspan></text>

<!-- ================= WIND ================= -->
<g fill="#f0f7c9">
<rect x="117" y="1036" width="61" height="157.3"/><rect x="250" y="1036" width="61" height="157.3"/><rect x="383" y="1036" width="61" height="157.3"/><rect x="517" y="1036" width="60.5" height="157.3"/><rect x="650" y="1036" width="61" height="157.3"/><rect x="783" y="1036" width="67" height="157.3"/><rect x="917" y="1036" width="66" height="157.3"/>
</g>
<g stroke="#888" stroke-width="0.9" stroke-dasharray="1.5,2" fill="none">
<path d="M81,1164H1014M81,1134.6H1014M81,1105.3H1014M81,1076H1014M81,1046.6H1014"/>
</g>
<path d="M214.3,1036V1193M347.7,1036V1193M481,1036V1193M614.3,1036V1193M747.7,1036V1193M881,1036V1193" stroke="#999" stroke-width="1"/>
<polyline fill="none" stroke="#17958a" stroke-width="2" stroke-linejoin="round" points="82.1,1156 87.5,1161 92.9,1161.7 98.2,1160 103.6,1154 107.1,1158.3 114.3,1155.7 119.6,1155.7 125,1161.7 130.4,1163.3 135.7,1170.7 141.1,1166.7 146.4,1156.7 153.6,1148.3 158.9,1145 166.1,1149 171.4,1155 178.6,1165 185.7,1178.3 191.1,1175 198.2,1166.7 205.4,1161 212.5,1157.7 223.2,1159 235.7,1154 246.4,1155.7 253.6,1161 264.3,1164.3 273.2,1152.3 285.7,1145 294.6,1148.3 303.6,1155 314.3,1168.3 319.6,1171 325,1171 335.7,1161.7 353.6,1159 364.3,1157.7 371.4,1159.3 380.4,1154 391.1,1157.3 396.4,1165 401.8,1166.7 419.6,1157.7 428.6,1145 435,1131.7 441.1,1142.3 446.4,1158.3 451.8,1162.7 458.9,1162.3 464.3,1152.3 468.9,1156 474.3,1144 480.4,1158.3 485.7,1151 492.1,1158.3 497.5,1147.7 502.9,1156 507.1,1155 514.3,1145 521.4,1141.7 532.1,1140 537.5,1141 542.9,1145 546.9,1133.3 553.1,1128.7 558.9,1135 564.1,1139.3 569.3,1135 574.4,1152.3 580.6,1159.3 585.5,1153.3 591.7,1167.7 596.8,1162.7 602.7,1176 608.9,1166.7 614,1161.7 619.2,1159.3 624.4,1153.7 630.2,1157.3 635.7,1158.3 648.5,1148.3 653.6,1148.3 662.2,1152.7 669.1,1156.7 674.3,1148.3 681.2,1132.3 686.3,1128.3 691.5,1137.7 697.7,1145.7 701.8,1146 708.7,1140.7 713.9,1141.7 719.1,1145.7 725.3,1142.7 731.1,1160 736.3,1164 741.5,1158.3 746.6,1146.7 752.8,1140.7 758.7,1150 769,1146 774.9,1154.3 780,1133.3 785.2,1132.7 789.6,1142.7 796.5,1149.3 802.4,1152.3 807.6,1143.3 812.7,1144 818.2,1141.7 825.8,1144 834.4,1145.7 842.3,1151 847.2,1168.3 853.4,1163.3 858.5,1158.3 863.7,1151.7 868.9,1135 874.7,1129 880.2,1130 885.4,1143.3 890.5,1150 897.1,1140.7 902.6,1143.3 908.5,1148.3 915.3,1151 922.2,1150 925.7,1151.7 930.9,1157.7 936.1,1155.7 942.9,1148.3 948.1,1145.7 952.5,1140 958.4,1141 963.6,1135.7 969.4,1141 975.6,1137.7 980.8,1136.7 985.9,1127.7 991.1,1122.3 1001.4,1100 1013.5,1067.3"/>
<polyline fill="none" stroke="#2a8ef5" stroke-width="3" stroke-linejoin="round" points="82,1181.7 103.6,1181 114.3,1182.3 125,1183.3 135.7,1186.7 146.4,1186.7 157.1,1185 167.9,1186 175,1187.3 183.9,1188.3 192.9,1186.7 214.3,1182.7 232.1,1180.7 246.4,1179 257.1,1179.3 282.1,1183.7 307.1,1182.3 321.4,1181.7 335.7,1179.7 360.7,1179 378.6,1180 389.3,1181 401.8,1186.7 414.3,1180 432.1,1181.7 450,1182.7 464.3,1179.3 482.1,1176.7 500,1172.3 525,1166.7 537.5,1167.7 546.9,1167.7 574.4,1180 584.8,1179 603.7,1185.7 608.9,1185.3 643.3,1176.7 677.7,1167.7 691.5,1171.7 701.8,1179 708.7,1179 722.5,1174 732.8,1175 753.5,1179 763.8,1176.7 781,1179 794.8,1180.3 805.2,1180.3 820.6,1178.3 836.1,1183.3 849.9,1183.7 870.6,1180 884.4,1179 918.8,1175.7 946.3,1173.7 952.2,1170.3 958.4,1175.7 967,1173.7 980.8,1173 991.1,1170.7 1003.2,1158.3 1013.5,1156"/>
<g>
<use xlink:href="#arr" transform="translate(81,1048) rotate(185)"/>
<use xlink:href="#arr" transform="translate(97.7,1048) rotate(180)"/>
<use xlink:href="#arr" transform="translate(114.3,1048) rotate(180)"/>
<use xlink:href="#arr" transform="translate(131,1048) rotate(180)"/>
<use xlink:href="#arr" transform="translate(147.7,1048) rotate(0)"/>
<use xlink:href="#arr" transform="translate(164.3,1048) rotate(50)"/>
<use xlink:href="#arr" transform="translate(181,1048) rotate(95)"/>
<use xlink:href="#arr" transform="translate(197.7,1048) rotate(190)"/>
<use xlink:href="#arr" transform="translate(214.3,1048) rotate(165)"/>
<use xlink:href="#arr" transform="translate(231,1048) rotate(160)"/>
<use xlink:href="#arr" transform="translate(247.7,1048) rotate(160)"/>
<use xlink:href="#arr" transform="translate(264.3,1048) rotate(180)"/>
<use xlink:href="#arr" transform="translate(281,1048) rotate(95)"/>
<use xlink:href="#arr" transform="translate(297.7,1048) rotate(60)"/>
<use xlink:href="#arr" transform="translate(314.3,1048) rotate(105)"/>
<use xlink:href="#arr" transform="translate(331,1048) rotate(180)"/>
<use xlink:href="#arr" transform="translate(347.7,1048) rotate(180)"/>
<use xlink:href="#arr" transform="translate(364.3,1048) rotate(180)"/>
<use xlink:href="#arr" transform="translate(381,1048) rotate(185)"/>
<use xlink:href="#arr" transform="translate(397.7,1048) rotate(25)"/>
<use xlink:href="#arr" transform="translate(414.3,1048) rotate(290)"/>
<use xlink:href="#arr" transform="translate(431,1048) rotate(320)"/>
<use xlink:href="#arr" transform="translate(447.7,1048) rotate(280)"/>
<use xlink:href="#arr" transform="translate(464.3,1048) rotate(255)"/>
<use xlink:href="#arr" transform="translate(481,1048) rotate(255)"/>
<use xlink:href="#arr" transform="translate(497.7,1048) rotate(225)"/>
<use xlink:href="#arr" transform="translate(514.3,1048) rotate(245)"/>
<use xlink:href="#arr" transform="translate(531,1048) rotate(240)"/>
<use xlink:href="#arr" transform="translate(547.7,1048) rotate(275)"/>
<use xlink:href="#arr" transform="translate(564.3,1048) rotate(295)"/>
<use xlink:href="#arr" transform="translate(581,1048) rotate(320)"/>
<use xlink:href="#arr" transform="translate(597.7,1048) rotate(265)"/>
<use xlink:href="#arr" transform="translate(614.3,1048) rotate(215)"/>
<use xlink:href="#arr" transform="translate(631,1048) rotate(220)"/>
<use xlink:href="#arr" transform="translate(647.7,1048) rotate(240)"/>
<use xlink:href="#arr" transform="translate(664.3,1048) rotate(265)"/>
<use xlink:href="#arr" transform="translate(681,1048) rotate(300)"/>
<use xlink:href="#arr" transform="translate(697.7,1048) rotate(5)"/>
<use xlink:href="#arr" transform="translate(714.3,1048) rotate(40)"/>
<use xlink:href="#arr" transform="translate(731,1048) rotate(55)"/>
<use xlink:href="#arr" transform="translate(747.7,1048) rotate(90)"/>
<use xlink:href="#arr" transform="translate(764.3,1048) rotate(180)"/>
<use xlink:href="#arr" transform="translate(781,1048) rotate(185)"/>
<use xlink:href="#arr" transform="translate(797.7,1048) rotate(275)"/>
<use xlink:href="#arr" transform="translate(814.3,1048) rotate(285)"/>
<use xlink:href="#arr" transform="translate(831,1048) rotate(270)"/>
<use xlink:href="#arr" transform="translate(847.7,1048) rotate(270)"/>
<use xlink:href="#arr" transform="translate(864.3,1048) rotate(130)"/>
<use xlink:href="#arr" transform="translate(881,1048) rotate(135)"/>
<use xlink:href="#arr" transform="translate(897.7,1048) rotate(140)"/>
<use xlink:href="#arr" transform="translate(914.3,1048) rotate(145)"/>
<use xlink:href="#arr" transform="translate(931,1048) rotate(145)"/>
<use xlink:href="#arr" transform="translate(947.7,1048) rotate(110)"/>
<use xlink:href="#arr" transform="translate(964.3,1048) rotate(100)"/>
<use xlink:href="#arr" transform="translate(981,1048) rotate(120)"/>
<use xlink:href="#arr" transform="translate(997.7,1048) rotate(140)"/>
<use xlink:href="#arr" transform="translate(1014.3,1048) rotate(135)"/>
</g>
<line x1="104" y1="1036" x2="104" y2="1193" stroke="#222" stroke-width="1.8" stroke-dasharray="5,3"/>
<use xlink:href="#tk" y="1193.3"/>
<rect x="81" y="1036" width="933" height="157.3" fill="none" stroke="#333" stroke-width="1.2"/>
<g font-size="16.7" fill="#111" text-anchor="end">
<text x="76" y="1199.5">0</text><text x="76" y="1170.2">2</text><text x="76" y="1140.8">4</text><text x="76" y="1111.5">6</text><text x="76" y="1082.2">8</text><text x="76" y="1052.8">10</text>
</g>
<text transform="translate(39,1115.5) rotate(-90)" font-size="16.7" fill="#2a8ef5" text-anchor="middle">Wind speed (m/s)</text>
<text transform="translate(1054,1116) rotate(-90)" font-size="16.7" fill="#17958a" text-anchor="middle">Wind gust (m/s)</text>
<text font-size="16.7" fill="#111" text-anchor="middle" y="1211"><tspan x="114.3">06</tspan><tspan x="147.7">12</tspan><tspan x="181">18</tspan><tspan x="214.3">Mon</tspan><tspan x="247.7">06</tspan><tspan x="281">12</tspan><tspan x="314.3">18</tspan><tspan x="347.7">Tue</tspan><tspan x="381">06</tspan><tspan x="414.3">12</tspan><tspan x="447.7">18</tspan><tspan x="481">Wed</tspan><tspan x="514.3">06</tspan><tspan x="547.7">12</tspan><tspan x="581">18</tspan><tspan x="614.3">Thu</tspan><tspan x="647.7">06</tspan><tspan x="681">12</tspan><tspan x="714.3">18</tspan><tspan x="747.7">Fri</tspan><tspan x="781">06</tspan><tspan x="814.3">12</tspan><tspan x="847.7">18</tspan><tspan x="881">Sat</tspan><tspan x="914.3">06</tspan><tspan x="947.7">12</tspan><tspan x="981">18</tspan></text>

<text x="58" y="1244" font-size="16" fill="#888">Last update: 2026-02-08 04:16</text>
</svg>
</body></html>
